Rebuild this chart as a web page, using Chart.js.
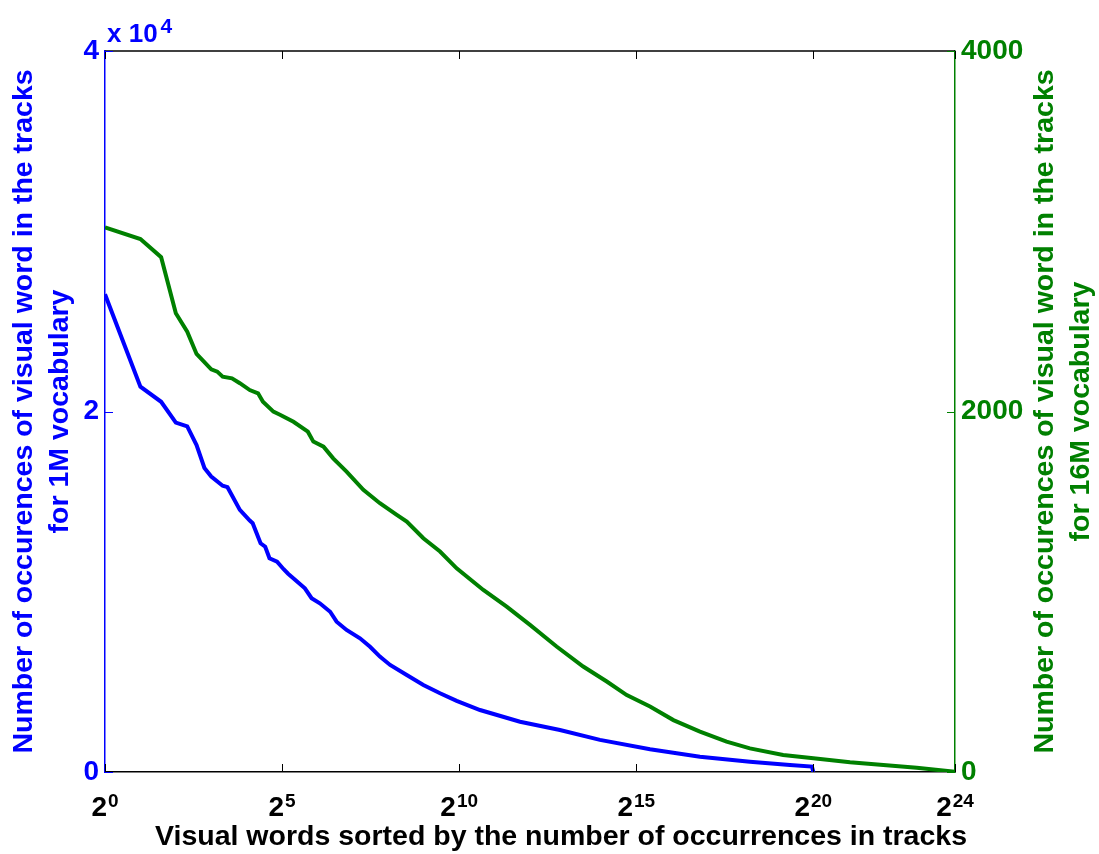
<!DOCTYPE html>
<html><head><meta charset="utf-8">
<script src="https://cdn.jsdelivr.net/npm/chart.js@4"></script>
<style>html,body{margin:0;padding:0;background:#fff;} canvas{display:block}</style>
</head><body>
<canvas id="c" width="1099" height="854"></canvas>
<script>
// ---- data ----
const xTickValues = [1, 32, 1024, 32768, 1048576, 16777216];
const xTickBase = '2';
const xTickExponents = ['0', '5', '10', '15', '20', '24'];
const leftTickValues = [0, 20000, 40000];
const rightTickValues = [0, 2000, 4000];

const vocab1MRank = [1, 2, 3, 4, 5, 6, 7, 8, 10, 11, 14, 17, 18, 21, 23, 25, 29, 33, 36, 41, 50, 57, 67, 82, 93, 113, 147, 179, 217, 265, 367, 508, 704, 975, 1540, 3370, 7360, 16100, 42900, 114000, 303000, 663000, 1020000, 1048576];
const vocab1MCount = [26500, 21380, 20540, 19380, 19170, 18140, 16870, 16390, 15880, 15800, 14540, 13950, 13800, 12690, 12500, 11860, 11670, 11250, 11000, 10680, 10190, 9640, 9360, 8890, 8340, 7880, 7420, 6950, 6400, 5940, 5380, 4830, 4370, 3950, 3440, 2790, 2330, 1780, 1260, 850, 570, 390, 300, 0];

const vocab16MRank = [1, 2, 3, 4, 5, 6, 8, 9, 10, 12, 14, 17, 20, 22, 27, 31, 40, 53, 59, 72, 87, 113, 157, 217, 302, 367, 508, 704, 975, 1643, 2594, 4096, 6890, 11600, 18400, 27200, 42900, 67800, 114000, 192000, 303000, 581000, 1050000, 2150000, 4130000, 7930000, 16777216];
const vocab16MCount = [3022, 2957, 2856, 2545, 2443, 2319, 2234, 2221, 2193, 2184, 2157, 2119, 2101, 2054, 1999, 1981, 1943, 1888, 1833, 1805, 1740, 1666, 1565, 1491, 1426, 1389, 1297, 1223, 1130, 1010, 917, 816, 696, 585, 502, 427, 363, 288, 224, 168, 131, 94, 76, 54, 39, 24, 1];

const xTitle = 'Visual words sorted by the number of occurrences in tracks';
const leftTitle = ['Number of occurences of visual word in the tracks', 'for 1M vocabulary'];
const rightTitle = ['Number of occurences of visual word in the tracks', 'for 16M vocabulary'];
const leftMultiplier = ['x 10', '4'];

// ---- style ----
const BLUE = '#0000ff';
const GREEN = '#008000';
const FAMILY = '"Liberation Sans", Arial, Helvetica, sans-serif';

const decorPlugin = {
  id: 'decor',
  afterDraw(chart) {
    const ctx = chart.ctx;
    const a = chart.chartArea;
    const xs = chart.scales.x, yl = chart.scales.y, yr = chart.scales.y2;
    ctx.save();
    // top border
    ctx.strokeStyle = '#000';
    ctx.lineWidth = 1.5;
    ctx.beginPath(); ctx.moveTo(a.left, a.top); ctx.lineTo(a.right, a.top); ctx.stroke();
    // inward x ticks (bottom & top)
    ctx.lineWidth = 1;
    xTickValues.forEach(v => {
      const px = Math.round(xs.getPixelForValue(v)) + 0.5;
      ctx.beginPath();
      ctx.moveTo(px, a.bottom); ctx.lineTo(px, a.bottom - 8);
      ctx.moveTo(px, a.top); ctx.lineTo(px, a.top + 8);
      ctx.stroke();
    });
    // inward y ticks
    ctx.strokeStyle = BLUE;
    leftTickValues.forEach(v => {
      const py = Math.round(yl.getPixelForValue(v)) + 0.5;
      ctx.beginPath(); ctx.moveTo(a.left, py); ctx.lineTo(a.left + 8, py); ctx.stroke();
    });
    ctx.strokeStyle = GREEN;
    rightTickValues.forEach(v => {
      const py = Math.round(yr.getPixelForValue(v)) + 0.5;
      ctx.beginPath(); ctx.moveTo(a.right, py); ctx.lineTo(a.right - 8, py); ctx.stroke();
    });
    // x tick labels: base with superscript exponent, centred on the tick
    ctx.fillStyle = '#000';
    ctx.textAlign = 'left';
    ctx.textBaseline = 'alphabetic';
    xTickValues.forEach((v, i) => {
      const px = xs.getPixelForValue(v);
      ctx.font = 'bold 28px ' + FAMILY;
      const wb = ctx.measureText(xTickBase).width;
      ctx.font = 'bold 19px ' + FAMILY;
      const we = ctx.measureText(xTickExponents[i]).width;
      const x0 = px - (wb + 1 + we) / 2;
      ctx.font = 'bold 28px ' + FAMILY;
      ctx.fillText(xTickBase, x0, a.bottom + 44);
      ctx.font = 'bold 19px ' + FAMILY;
      ctx.fillText(xTickExponents[i], x0 + wb + 1, a.bottom + 35);
    });
    // x axis title
    ctx.font = 'bold 28.5px ' + FAMILY;
    ctx.textAlign = 'center';
    ctx.fillText(xTitle, 561, 845);
    // multiplier label above left axis
    ctx.fillStyle = BLUE;
    ctx.textAlign = 'left';
    ctx.font = 'bold 26px ' + FAMILY;
    ctx.fillText(leftMultiplier[0], a.left + 2, 42);
    const w = ctx.measureText(leftMultiplier[0]).width;
    ctx.font = 'bold 21px ' + FAMILY;
    ctx.fillText(leftMultiplier[1], a.left + 2 + w + 3, 33);
    // right title, reading bottom-to-top
    ctx.fillStyle = GREEN;
    ctx.font = 'bold 28.5px ' + FAMILY;
    ctx.textAlign = 'center';
    ctx.textBaseline = 'middle';
    ctx.translate(1045, (a.top + a.bottom) / 2);
    ctx.rotate(-Math.PI / 2);
    ctx.fillText(rightTitle[0], 0, 0);
    ctx.fillText(rightTitle[1], 0, 36);
    ctx.restore();
  }
};

const toPoints = (xs, ys) => xs.map((x, i) => ({x: x, y: ys[i]}));

new Chart(document.getElementById('c'), {
  type: 'line',
  data: {
    datasets: [
      {label: '1M vocabulary', data: toPoints(vocab1MRank, vocab1MCount), yAxisID: 'y',
       borderColor: BLUE, borderWidth: 4, pointRadius: 0, tension: 0, fill: false},
      {label: '16M vocabulary', data: toPoints(vocab16MRank, vocab16MCount), yAxisID: 'y2',
       borderColor: GREEN, borderWidth: 4, pointRadius: 0, tension: 0, fill: false}
    ]
  },
  options: {
    responsive: false,
    animation: false,
    devicePixelRatio: 1,
    layout: {padding: {top: 51, left: 0, right: 0, bottom: 0}},
    plugins: {legend: {display: false}, tooltip: {enabled: false}},
    scales: {
      x: {
        type: 'logarithmic', position: 'bottom', min: 1, max: 16777216,
        afterBuildTicks: s => { s.ticks = xTickValues.map(v => ({value: v})); },
        afterFit: s => { s.height = 82; },
        grid: {display: false, drawTicks: false},
        border: {display: true, color: '#000', width: 1.5},
        ticks: {display: false, autoSkip: false, maxRotation: 0},
        title: {display: false, text: xTitle}
      },
      y: {
        type: 'linear', position: 'left', min: 0, max: 40000,
        afterBuildTicks: s => { s.ticks = leftTickValues.map(v => ({value: v})); },
        afterFit: s => { s.width = 105; },
        grid: {display: false, drawTicks: false},
        border: {display: true, color: BLUE, width: 1.5},
        ticks: {padding: 6, color: BLUE, font: {family: FAMILY, size: 28, weight: 'bold'},
                callback: v => String(v / 10000)},
        title: {display: true, text: leftTitle, color: BLUE, padding: {top: 6, bottom: 0},
                font: {family: FAMILY, size: 28.5, weight: 'bold', lineHeight: 1.27}}
      },
      y2: {
        type: 'linear', position: 'right', min: 0, max: 4000,
        afterBuildTicks: s => { s.ticks = rightTickValues.map(v => ({value: v})); },
        afterFit: s => { s.width = 144; },
        grid: {display: false, drawTicks: false},
        border: {display: true, color: GREEN, width: 1.5},
        ticks: {padding: 6, color: GREEN, font: {family: FAMILY, size: 28, weight: 'bold'},
                callback: v => String(v)}
      }
    }
  },
  plugins: [decorPlugin]
});
</script>
</body></html>
